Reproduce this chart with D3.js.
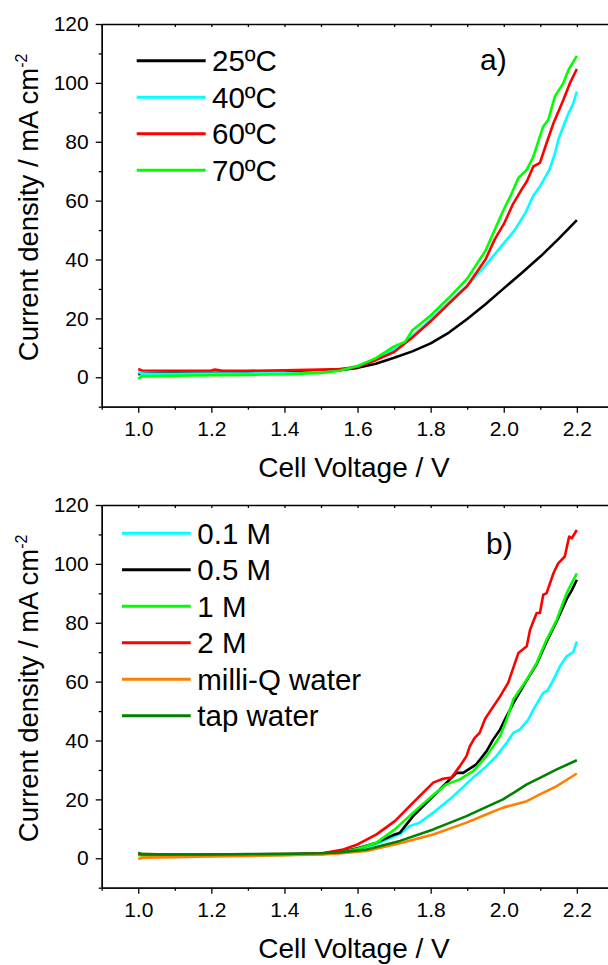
<!DOCTYPE html>
<html><head><meta charset="utf-8">
<script src="https://cdn.jsdelivr.net/npm/d3@7"></script>
<style>
body{margin:0;background:#fff}
svg{display:block}
text{font-family:"Liberation Sans",Arial,sans-serif;fill:#000}
</style>
</head><body><svg id="c" width="608" height="965"></svg>
<script>
// ---- ticks ----
const xMajor=[1.0,1.2,1.4,1.6,1.8,2.0,2.2];
const xMinor=[0.9,1.1,1.3,1.5,1.7,1.9,2.1,2.3];
const yMajor=[0,20,40,60,80,100,120];
const yMinor=[-10,10,30,50,70,90,110];
const xTitle="Cell Voltage / V";
const yTitle="Current density / mA cm";

// ---- panel a: temperature ----
const namesA=["25ºC","40ºC","60ºC","70ºC"];
const colorsA=["#000000","#00FFFF","#FF0000","#00FF00"];
const t25=[[1.0,1.0],[1.02,1.3],[1.1,1.4],[1.2,1.5],[1.3,1.5],[1.4,1.6],[1.45,1.8],[1.5,2.0],[1.55,2.4],[1.6,3.2],[1.65,4.6],[1.7,6.6],[1.75,8.8],[1.8,11.5],[1.85,15.2],[1.9,19.8],[1.95,24.8],[2.0,30.2],[2.05,35.5],[2.1,41],[2.15,47],[2.2,53.4]];
const t40=[[1.0,1.8],[1.01,1.2],[1.1,1.2],[1.2,1.3],[1.3,1.3],[1.4,1.4],[1.45,1.5],[1.5,1.8],[1.55,2.4],[1.6,3.8],[1.65,6.2],[1.7,9.5],[1.72,11],[1.75,14],[1.8,19.5],[1.85,25.5],[1.9,31],[1.95,38],[2.0,45.5],[2.03,50],[2.06,56],[2.08,61.5],[2.1,65],[2.125,70.5],[2.14,76],[2.15,81],[2.175,89],[2.19,93],[2.2,97]];
const t60=[[1.0,2.8],[1.01,2.3],[1.1,2.2],[1.2,2.3],[1.21,2.6],[1.23,2.2],[1.3,2.2],[1.4,2.4],[1.5,2.6],[1.55,2.8],[1.6,3.5],[1.65,5.8],[1.7,8.6],[1.75,13.5],[1.8,19],[1.85,25],[1.9,31],[1.95,40],[1.976,47],[2.0,52],[2.026,59],[2.05,64],[2.063,66.5],[2.081,71.6],[2.099,72.8],[2.117,79.5],[2.136,86.3],[2.163,94.2],[2.181,99.9],[2.2,104.7]];
const t70=[[1.0,-0.5],[1.01,0.3],[1.1,0.5],[1.2,0.7],[1.3,0.8],[1.4,1.0],[1.5,1.5],[1.55,2.2],[1.6,3.8],[1.65,6.5],[1.7,10.5],[1.72,11.5],[1.73,12],[1.75,16],[1.8,21],[1.85,27],[1.9,33.5],[1.95,43],[1.975,50],[2.0,57],[2.02,62],[2.04,67.7],[2.063,70.5],[2.081,75],[2.108,85.2],[2.122,87.5],[2.14,95.4],[2.163,99.9],[2.177,104.4],[2.2,109.2]];

// ---- panel b: electrolyte ----
const namesB=["0.1 M","0.5 M","1 M","2 M","milli-Q water","tap water"];
const colorsB=["#00FFFF","#000000","#00FF00","#FF0000","#FF8000","#008000"];
const c01=[[1.0,1.6],[1.01,1.2],[1.1,1.0],[1.2,1.1],[1.3,1.1],[1.4,1.2],[1.5,1.5],[1.55,2.0],[1.6,3.0],[1.65,4.8],[1.7,7.4],[1.72,8.5],[1.743,11],[1.77,12.1],[1.807,15.5],[1.862,21.1],[1.916,27.4],[1.953,31.3],[1.98,34.7],[2.008,39.2],[2.026,42.6],[2.044,43.7],[2.067,47.1],[2.081,50.5],[2.108,56.2],[2.12,57],[2.136,60.7],[2.154,65.2],[2.172,68.6],[2.19,70],[2.2,73.7]];
const c05=[[1.0,1.5],[1.01,1.2],[1.1,1.1],[1.2,1.2],[1.3,1.2],[1.4,1.3],[1.5,1.6],[1.55,2.0],[1.6,3.4],[1.652,5.3],[1.702,8.1],[1.716,8.7],[1.752,14.3],[1.807,21.1],[1.834,24.5],[1.871,29],[1.889,29],[1.925,31.9],[1.953,36.4],[1.971,40.3],[1.99,43.7],[2.003,47.1],[2.03,53.5],[2.063,60.5],[2.09,66],[2.117,73.5],[2.145,80.5],[2.172,88],[2.186,91],[2.2,94.6]];
const c1=[[1.0,1.0],[1.1,0.9],[1.2,1.0],[1.3,1.0],[1.4,1.1],[1.5,1.4],[1.55,1.9],[1.6,3.2],[1.652,5.3],[1.702,9.8],[1.752,15.5],[1.807,21.5],[1.843,25.1],[1.88,26.8],[1.916,29.6],[1.953,34.7],[1.971,38],[1.99,41.5],[2.008,47.1],[2.026,53.9],[2.063,60.7],[2.09,66.3],[2.117,74.2],[2.145,81],[2.172,90],[2.186,93.5],[2.2,96.8]];
const c2=[[1.0,1.4],[1.1,1.3],[1.2,1.3],[1.3,1.3],[1.4,1.4],[1.5,1.6],[1.561,3],[1.6,4.7],[1.652,8.1],[1.702,12.6],[1.752,18.9],[1.807,25.7],[1.834,27],[1.857,27.4],[1.88,31.3],[1.898,34.7],[1.907,38],[1.92,40.8],[1.934,42.6],[1.949,47.4],[1.99,55],[2.012,59.6],[2.04,69.7],[2.063,72],[2.072,77.6],[2.09,83.3],[2.099,83.3],[2.108,89.5],[2.117,90],[2.136,96.8],[2.149,100.2],[2.167,102.5],[2.179,109.3],[2.186,108.7],[2.2,111.5]];
const milliQ=[[1.0,-0.3],[1.01,0.2],[1.1,0.4],[1.2,0.6],[1.3,0.8],[1.4,1.0],[1.5,1.3],[1.55,1.6],[1.625,2.5],[1.716,5.1],[1.807,8.1],[1.898,12.1],[1.95,14.8],[1.998,17.2],[2.03,18.3],[2.063,19.4],[2.099,21.7],[2.145,24.5],[2.2,28.8]];
const tap=[[1.0,1.9],[1.01,1.4],[1.1,1.3],[1.2,1.3],[1.3,1.4],[1.4,1.5],[1.5,1.7],[1.55,2.0],[1.625,3.0],[1.716,5.9],[1.807,9.8],[1.898,14.3],[1.95,17.3],[1.998,20],[2.03,22.5],[2.063,25.1],[2.099,27.3],[2.145,30.2],[2.2,33.3]];

const svg=d3.select("#c");
const X0=101.7, XW=1.4*365.5;

function panel(top, bottom, seriesList, colors, names, label, leg){
  const x=d3.scaleLinear().domain([0.9,2.3]).range([X0,X0+XW]);
  const y=d3.scaleLinear().domain([-10,120]).range([bottom,top]);
  const g=svg.append("g");
  // data
  const line=d3.line().x(d=>x(d[0])).y(d=>y(d[1]));
  seriesList.forEach((s,i)=>{
    g.append("path").attr("d",line(s)).attr("fill","none")
     .attr("stroke",colors[i]).attr("stroke-width",2.6).attr("stroke-linejoin","round");
  });
  // bottom axis
  const bx=g.append("g").attr("transform",`translate(0,${bottom})`);
  bx.call(d3.axisBottom(x).tickValues(xMajor).tickSize(6).tickPadding(8).tickSizeOuter(0).tickFormat(d3.format(".1f")));
  bx.append("g").call(d3.axisBottom(x).tickValues(xMinor).tickSize(3).tickSizeOuter(0).tickFormat(""));
  // top axis
  const tx=g.append("g").attr("transform",`translate(0,${top})`);
  tx.call(d3.axisBottom(x).tickValues(xMajor.concat(xMinor)).tickSize(3).tickSizeOuter(0).tickFormat(""));
  // left axis
  const ly=g.append("g").attr("transform",`translate(${X0},0)`);
  ly.call(d3.axisLeft(y).tickValues(yMajor).tickSize(6).tickPadding(7).tickSizeOuter(0));
  ly.append("g").call(d3.axisLeft(y).tickValues(yMinor).tickSize(3).tickSizeOuter(0).tickFormat(""));
  g.selectAll(".domain").attr("stroke","#000").attr("stroke-width",1.3);
  g.selectAll(".tick line").attr("stroke","#000").attr("stroke-width",1.3);
  g.selectAll(".tick text").attr("font-size",21).attr("font-family","'Liberation Sans',Arial,sans-serif").attr("fill","#000");
  // titles
  g.append("text").attr("x",354).attr("y",bottom+70).attr("text-anchor","middle").attr("font-size",28).text(xTitle);
  const yt=g.append("text").attr("transform",`translate(38,${(top+bottom)/2-8}) rotate(-90)`).attr("text-anchor","middle").attr("font-size",27.5);
  yt.append("tspan").text(yTitle);
  yt.append("tspan").attr("dy",-11).attr("font-size",16).text("-2");
  // legend
  names.forEach((n,i)=>{
    const yy=leg.y0+i*leg.dy;
    g.append("line").attr("x1",leg.x1).attr("x2",leg.x2).attr("y1",yy).attr("y2",yy).attr("stroke",colors[i]).attr("stroke-width",3);
    g.append("text").attr("x",leg.tx).attr("y",yy).attr("dy","0.36em").attr("font-size",29.5).text(n);
  });
  g.append("text").attr("x",label.x).attr("y",label.y).attr("font-size",30).text(label.t);
}

panel(24,406.7,[t25,t40,t60,t70],colorsA,namesA,{x:480,y:70,t:"a)"},{x1:136.7,x2:205.7,tx:212,y0:60.7,dy:36.5});
panel(505,887.7,[c01,c05,c1,c2,milliQ,tap],colorsB,namesB,{x:486,y:554,t:"b)"},{x1:122,x2:190.7,tx:197.3,y0:533.3,dy:36.5});
</script>
</body></html>
